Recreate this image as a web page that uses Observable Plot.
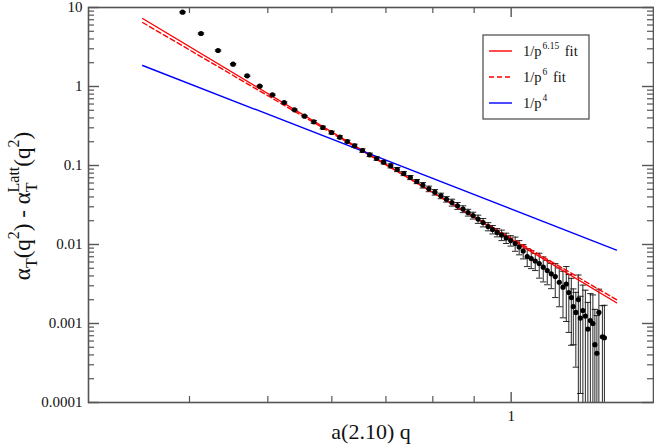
<!DOCTYPE html>
<html>
<head>
<meta charset="utf-8">
<script src="https://cdn.jsdelivr.net/npm/d3@7"></script>
<script src="https://cdn.jsdelivr.net/npm/@observablehq/plot@0.6"></script>
<style>
  html, body { margin: 0; padding: 0; background: white; }
</style>
</head>
<body>
<div id="chart"></div>
<script>
// ---- data ----
const qValues = [0.3922,0.4133,0.4339,0.4529,0.4714,0.4886,0.5066,0.5238,0.5395,0.5551,
0.5700,0.5848,0.5995,0.6139,0.6270,0.6402,0.6546,0.6683,0.6818,0.6956,
0.7096,0.7229,0.7365,0.7503,0.7644,0.7776,0.7911,0.8048,0.8187,0.8316,
0.8448,0.8582,0.8719,0.8844,0.8972,0.9100,0.9231,0.9364,0.9485,0.9608,
0.9732,0.9858,0.9986,1.0115,1.0231,1.0349,1.0468,1.0588,1.0710,1.0833,
1.0957,1.1083,1.1210,1.1339,1.1469,1.1591,1.1701,1.1785,1.1869,1.1937,
1.2023,1.2109,1.2178,1.2266,1.2354,1.2442,1.2531,1.2621,1.2693,1.2766,
1.2839,1.2968,1.3042];
const alphaDiff = [8.72,4.69,2.855,1.916,1.366,1.009,0.785,0.627,0.507,0.421,
0.3573,0.3027,0.2616,0.2282,0.2012,0.1776,0.1548,0.1366,0.1226,0.1101,
0.0991,0.0890,0.0792,0.0705,0.0627,0.0563,0.0507,0.0459,0.0413,0.0374,
0.0340,0.0309,0.0281,0.0254,0.0233,0.0210,0.0190,0.0169,0.0155,0.0142,
0.0132,0.0121,0.01124,0.0103,0.0093,0.00827,0.00705,0.00665,0.00618,0.00575,
0.00516,0.00469,0.00426,0.00393,0.00333,0.00288,0.00316,0.00247,0.00213,0.00164,
0.00138,0.00201,0.00117,0.00146,0.00124,0.00085,0.00109,0.00100,0.00054,0.00042,
0.00138,0.00068,0.00066];
const alphaErr = [0.174,0.094,0.057,0.038,0.027,0.020,0.0157,0.0125,0.0101,0.0084,
0.0143,0.0121,0.0105,0.0091,0.0080,0.0089,0.0077,0.0068,0.0061,0.0055,
0.0059,0.0053,0.0048,0.0042,0.0038,0.0045,0.0041,0.0037,0.0033,0.0030,
0.0034,0.0031,0.0028,0.0025,0.0023,0.0025,0.0023,0.0020,0.0019,0.0017,
0.0020,0.0018,0.0017,0.0021,0.0019,0.0017,0.0018,0.0017,0.0015,0.0020,
0.0018,0.0016,0.0015,0.0018,0.0017,0.0017,0.0021,0.0017,0.0016,0.0011,
0.0011,0.0021,0.00104,0.0016,0.0014,0.0010,0.0013,0.0013,0.00097,0.00084,
0.00134,0.0010,0.00104];

// fitted power-law lines (end points)
const fitX = [0.350, 1.35];
const fit615Y = [7.26, 0.00183];   // 1/p^6.15 fit
const fit6Y = [6.46, 0.00200];     // 1/p^6 fit
const p4Y = [1.845, 0.0085];       // 1/p^4

// axis ticks
const yMajor = [10, 1, 0.1, 0.01, 0.001, 0.0001];
const yTickLabels = ["10", "1", "0.1", "0.01", "0.001", "0.0001"];
const yDecades = [0.0001, 0.001, 0.01, 0.1, 1];
const minorMult = [2, 3, 4, 5, 6, 7, 8, 9];
const xMajor = [1];
const xTickLabels = ["1"];
const xMinor = [0.4, 0.5, 0.6, 0.7, 0.8, 0.9];

const legendRows = [
  {base: "1/p", sup: "6.15", tail: " fit", color: "#ff0000", dash: null},
  {base: "1/p", sup: "6", tail: " fit", color: "#ff0000", dash: "5,3"},
  {base: "1/p", sup: "4", tail: "", color: "#0000ff", dash: null}
];

// ---- build ----
const yMin = 0.0001;
const points = qValues.map((q, i) => {
  const y = alphaDiff[i], e = alphaErr[i];
  const lo = y - e;
  return {q, y, hi: y + e, lo: lo > yMin ? lo : yMin, loCap: lo > yMin};
});
const yMinor = yDecades.flatMap(d => minorMult.map(m => d * m));
const line = (ys) => fitX.map((x, i) => ({x, y: ys[i]}));

const W = 654, H = 446, mL = 88, mR = 1, mT = 7, mB = 44;
const innerW = W - mL - mR, innerH = H - mT - mB;
const axisColor = "#555";
const serif = "Liberation Serif, Tinos, Times New Roman, Times, DejaVu Serif, serif";
const capSymbol = {draw(ctx) { ctx.moveTo(-3.2, 0); ctx.lineTo(3.2, 0); }};
const yLabelMap = new Map(yMajor.map((v, i) => [v, yTickLabels[i]]));
const xLabelMap = new Map(xMajor.map((v, i) => [v, xTickLabels[i]]));

const svg = Plot.plot({
  width: W, height: H,
  marginLeft: mL, marginRight: mR, marginTop: mT, marginBottom: mB,
  style: {background: "white", color: "#111"},
  x: {type: "log", domain: [0.3, 1.5]},
  y: {type: "log", domain: [yMin, 10]},
  marks: [
    // ticks (inward, on all four sides)
    Plot.ruleY(yMajor, {insetRight: innerW - 11, stroke: axisColor, strokeWidth: 1.4}),
    Plot.ruleY(yMajor, {insetLeft: innerW - 11, stroke: axisColor, strokeWidth: 1.4}),
    Plot.ruleY(yMinor, {insetRight: innerW - 6, stroke: axisColor, strokeWidth: 1.2}),
    Plot.ruleY(yMinor, {insetLeft: innerW - 6, stroke: axisColor, strokeWidth: 1.2}),
    Plot.ruleX(xMajor, {insetTop: innerH - 10, stroke: axisColor, strokeWidth: 1.4}),
    Plot.ruleX(xMajor, {insetBottom: innerH - 10, stroke: axisColor, strokeWidth: 1.4}),
    Plot.ruleX(xMinor, {insetTop: innerH - 6, stroke: axisColor, strokeWidth: 1.2}),
    Plot.ruleX(xMinor, {insetBottom: innerH - 6, stroke: axisColor, strokeWidth: 1.2}),
    Plot.axisY(yMajor, {tickSize: 0, tickPadding: 6, fontSize: 15, fontFamily: serif, tickFormat: d => yLabelMap.get(d)}),
    Plot.axisX(xMajor, {tickSize: 0, tickPadding: 8, fontSize: 15, fontFamily: serif, tickFormat: d => xLabelMap.get(d), label: null}),
    // error bars
    Plot.ruleX(points, {x: "q", y1: "lo", y2: "hi", stroke: "#111", strokeWidth: 0.9}),
    Plot.dot(points, {x: "q", y: "hi", symbol: capSymbol, stroke: "#111", strokeWidth: 0.9, fill: "none", r: 3}),
    Plot.dot(points.filter(d => d.loCap), {x: "q", y: "lo", symbol: capSymbol, stroke: "#111", strokeWidth: 0.9, fill: "none", r: 3}),
    // fit lines
    Plot.line(line(fit615Y), {x: "x", y: "y", stroke: "#ff0000", strokeWidth: 1.4}),
    Plot.line(line(fit6Y), {x: "x", y: "y", stroke: "#ff0000", strokeWidth: 1.4, strokeDasharray: "5,3"}),
    Plot.line(line(p4Y), {x: "x", y: "y", stroke: "#0000ff", strokeWidth: 1.4}),
    // data points
    Plot.dot(points, {x: "q", y: "y", r: 2.6, fill: "black", stroke: "none"}),
    Plot.frame({stroke: axisColor, strokeWidth: 1.6}),
    Plot.text(["a(2.10) q"], {frameAnchor: "bottom", dy: 36, fontSize: 22, fontFamily: serif, fill: "#111", text: d => d})
  ]
});
document.getElementById("chart").append(svg);

const s = d3.select(svg);

// legend
const lg = s.append("g").attr("fill", "#111").style("font-family", serif).attr("text-anchor", "start");
lg.append("rect").attr("x", 483).attr("y", 35).attr("width", 106).attr("height", 84)
  .attr("fill", "white").attr("stroke", axisColor).attr("stroke-width", 1.3);
legendRows.forEach((r, i) => {
  const yy = 51 + i * 26;
  lg.append("line").attr("x1", 489).attr("x2", 512).attr("y1", yy).attr("y2", yy)
    .attr("stroke", r.color).attr("stroke-width", 1.4)
    .attr("stroke-dasharray", r.dash);
  const t = lg.append("text").attr("x", 523).attr("y", yy + 5).attr("font-size", 14.5);
  t.append("tspan").text(r.base);
  t.append("tspan").attr("font-size", 9.5).attr("dy", -7).attr("dx", 1).text(r.sup);
  if (r.tail) t.append("tspan").attr("dy", 7).attr("dx", 2).text(r.tail);
});

// y-axis title  α_T(q²) - α_T^Latt(q²)
const big = 23, small = 16;
const yt = s.append("text")
  .style("font-family", serif).attr("fill", "#111").attr("font-size", big)
  .attr("text-anchor", "middle")
  .attr("transform", "translate(30,206) rotate(-90)");
yt.append("tspan").text("α");
yt.append("tspan").attr("font-size", small).attr("dy", 7).text("T");
yt.append("tspan").attr("dy", -7).text("(q");
yt.append("tspan").attr("font-size", small).attr("dy", -11).text("2");
yt.append("tspan").attr("dy", 11).text(") - α");
yt.append("tspan").attr("font-size", small).attr("dy", 7).text("T");
yt.append("tspan").attr("font-size", small).attr("dy", -18).attr("dx", -10).text("Latt");
yt.append("tspan").attr("dy", 11).text("(q");
yt.append("tspan").attr("font-size", small).attr("dy", -11).text("2");
yt.append("tspan").attr("dy", 11).text(")");
</script>
</body>
</html>
